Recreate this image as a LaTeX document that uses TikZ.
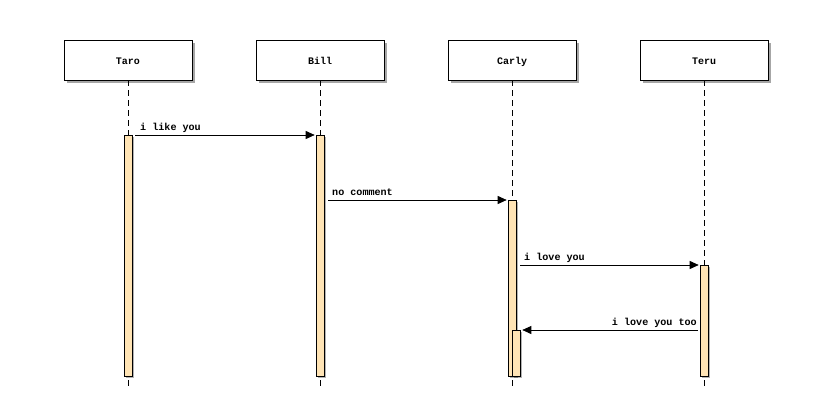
\documentclass[tikz,border=0pt]{standalone}
\usepackage{fontspec}
\setmonofont{Liberation Mono}
\usetikzlibrary{shadows,arrows.meta,calc}
\newcommand{\actorname}[1]{\raisebox{-4.3pt}[0pt][0pt]{#1}}
\begin{document}
\begin{tikzpicture}[x=1pt,y=-1pt,
  actorbox/.style={draw=black, line width=0.8pt, fill=white, minimum width=128pt, minimum height=40pt, inner sep=0pt,
    font=\ttfamily\bfseries\fontsize{10}{11}\selectfont,
    drop shadow={shadow xshift=3pt, shadow yshift=-3pt, fill=black, opacity=0.35}},
  actbar/.style={draw=black, line width=0.6pt, fill={rgb,255:red,255;green,228;blue,181}, minimum width=8pt, inner sep=0pt, anchor=north,
    drop shadow={shadow xshift=2pt, shadow yshift=-2pt, fill=black, opacity=0.3}},
  lifeline/.style={draw=black, line width=0.7pt, dash pattern=on 6pt off 4pt},
  msg/.style={draw=black, line width=0.7pt, -{Triangle[length=9pt,width=8pt]}},
  msglabel/.style={font=\ttfamily\bfseries\fontsize{10.1}{11}\selectfont, inner sep=0pt}
]
\useasboundingbox (0,0) rectangle (832,404);
% lifelines
\coordinate (endT) at (128,386);
\coordinate (endB) at (320,386);
\coordinate (endC) at (512,386);
\coordinate (endR) at (704,386);
\node[actorbox] (taro) at (128,60) {\actorname{Taro}};
\node[actorbox] (bill) at (320,60) {\actorname{Bill}};
\node[actorbox] (carly) at (512,60) {\actorname{Carly}};
\node[actorbox] (teru) at (704,60) {\actorname{Teru}};
\draw[lifeline] (taro.south) -- (endT);
\draw[lifeline] (bill.south) -- (endB);
\draw[lifeline] (carly.south) -- (endC);
\draw[lifeline] (teru.south) -- (endR);
% activation bars
\node[actbar, minimum height=241pt] (barT) at (128,135) {};
\node[actbar, minimum height=241pt] (barB) at (320,135) {};
\node[actbar, minimum height=176pt] (barC) at (512,200) {};
\node[actbar, minimum height=46pt] (barC2) at (516,330) {};
\node[actbar, minimum height=111pt] (barR) at (704,265) {};
% messages
\draw[msg] ([xshift=3pt]barT.north east) -- ([xshift=-1pt]barB.north west);
\node[msglabel, anchor=base west] (l1) at (140,130.5) {i like you};
\draw[msg] ($(barB.east |- barC.north)+(4pt,0)$) -- ([xshift=-1pt]barC.north west);
\node[msglabel, anchor=base west] (l2) at (332,195.5) {no comment};
\draw[msg] ($(barC.east |- barR.north)+(4pt,0)$) -- ([xshift=-1pt]barR.north west);
\node[msglabel, anchor=base west] (l3) at (524,260.5) {i love you};
\draw[msg] ($(barR.west |- barC2.north)+(-2pt,0)$) -- ([xshift=2pt]barC2.north east);
\node[msglabel, anchor=base east] (l4) at (697,325.5) {i love you too};
\end{tikzpicture}
\end{document}
